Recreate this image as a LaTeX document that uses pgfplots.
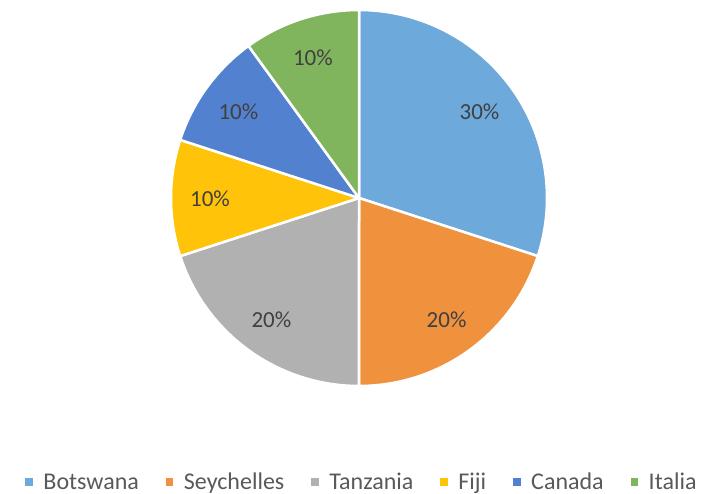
\documentclass[border=0pt]{standalone}
\usepackage{fontspec}
\setmainfont{Carlito}
\usepackage{pgfplots}
\usepackage{pgfplotstable}
\pgfplotsset{compat=1.18}
\definecolor{cBot}{HTML}{6DA9DB}
\definecolor{cSey}{HTML}{F0913E}
\definecolor{cTan}{HTML}{B1B1B1}
\definecolor{cFij}{HTML}{FFC409}
\definecolor{cCan}{HTML}{5281CF}
\definecolor{cIta}{HTML}{80B55E}
\definecolor{lbltext}{HTML}{404040}
\definecolor{legtext}{HTML}{595959}
\pgfplotstableread{
label value color
Botswana 30 cBot
Seychelles 20 cSey
Tanzania 20 cTan
Fiji 10 cFij
Canada 10 cCan
Italia 10 cIta
}\piedata
\tikzset{lbl/.style={font=\fontsize{23bp}{27bp}\selectfont, text=lbltext}}
\pgfplotsset{legsq/.style={legend image code/.code={\fill[##1, draw=none] (0bp,-3.5bp) rectangle (7.5bp,4bp); \path[draw=none, fill=none] (0bp,0bp) -- (16bp,0bp);}}}
\begin{document}
\begin{tikzpicture}
\useasboundingbox (0,0) rectangle (724bp,494bp);
\begin{axis}[hide axis, scale only axis, x=1bp, y=1bp,
  xmin=0, xmax=724, ymin=0, ymax=494, clip=false,
  legend columns=6,
  legend style={draw=none, fill=none, at={(0.5,0.024)}, anchor=center,
    font=\fontsize{24bp}{28bp}\selectfont, text=legtext,
    /tikz/every even column/.append style={column sep=25bp}},
  ]
\def\cum{0}
\pgfplotsinvokeforeach{0,...,5}{
  \pgfplotstablegetelem{#1}{value}\of\piedata \let\val\pgfplotsretval
  \pgfplotstablegetelem{#1}{color}\of\piedata \let\col\pgfplotsretval
  \pgfmathsetmacro\aend{90-3.6*\cum}
  \pgfmathsetmacro\astart{90-3.6*(\cum+\val)}
  \pgfmathsetmacro\amid{(\aend+\astart)/2}
  \pgfmathsetmacro\lx{359+149*cos(\amid)}
  \pgfmathsetmacro\ly{295+149*sin(\amid)}
  \edef\doit{\noexpand\addplot[fill=\col, draw=white, line width=2.5bp, line join=round, samples=90, domain=\astart:\aend, forget plot] ({359+188*cos(x)},{296+188*sin(x)}) -- (axis cs:359,296) -- cycle;
    \noexpand\node[lbl] at (axis cs:\lx,\ly) {\val\noexpand\%};}
  \doit
  \pgfmathsetmacro\cum{\cum+\val}
}
\addlegendimage{legsq, cBot}\addlegendentry{Botswana}
\addlegendimage{legsq, cSey}\addlegendentry{Seychelles}
\addlegendimage{legsq, cTan}\addlegendentry{Tanzania}
\addlegendimage{legsq, cFij}\addlegendentry{Fiji}
\addlegendimage{legsq, cCan}\addlegendentry{Canada}
\addlegendimage{legsq, cIta}\addlegendentry{Italia}
\end{axis}
\end{tikzpicture}
\end{document}
